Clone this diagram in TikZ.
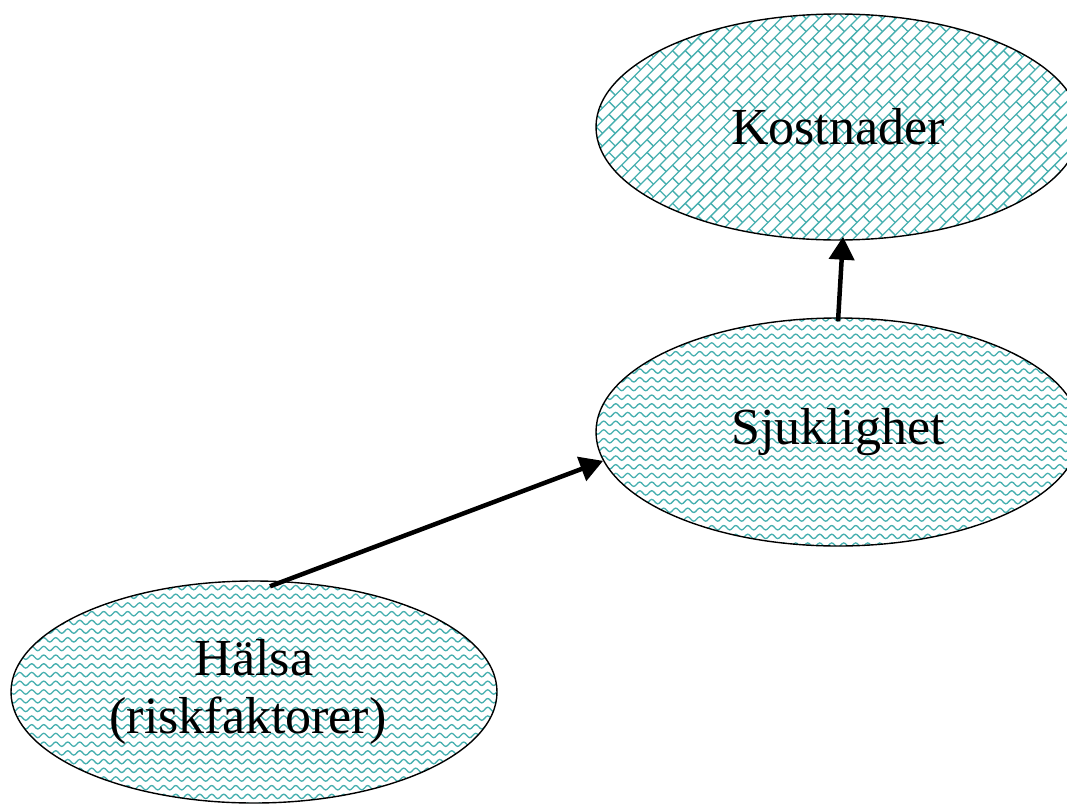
\documentclass[tikz,border=0pt]{standalone}
\usepackage{fontspec}
\setmainfont{Liberation Serif}
\usetikzlibrary{shapes.geometric,arrows.meta,decorations.pathmorphing,calc}
\definecolor{pat}{RGB}{70,175,175}
\tikzset{
  patline/.style={draw=pat,line width=1.3pt},
  bubble/.style={ellipse,draw=black,line width=1.4pt,fill=white,inner sep=0pt,
     font=\fontsize{52}{60}\selectfont,align=center},
  wavefill/.style={path picture={
     \foreach \k in {-14,...,14} {
       \draw[patline,decorate,decoration={snake,segment length=12pt,amplitude=2.2pt}]
         ([xshift=-262pt,yshift=\k*8.7pt]path picture bounding box.center) -- ++(524pt,0pt);
     }}},
  brickfill/.style={path picture={
     \foreach \k in {-24,...,24} {
       \pgfmathtruncatemacro\oo{mod(\k+100,2)*9}
       \draw[patline] ([xshift=\k*6.364pt-205pt,yshift=-\k*6.364pt-205pt]path picture bounding box.center)
          -- ++(410pt,410pt);
       \draw[patline] \foreach \j in {-17,...,17} {
          ([xshift=\k*6.364pt+\j*12.728pt+\oo*0.7071pt,yshift=\j*12.728pt+\oo*0.7071pt-\k*6.364pt]path picture bounding box.center)
          -- ++(6.364pt,-6.364pt)};
     }}},
  conn/.style={line width=4.5pt,-{Triangle[length=23pt,width=25pt]}},
}
\begin{document}
\begin{tikzpicture}[x=1pt,y=-1pt]
\useasboundingbox (0,0) rectangle (1067,806);
\node[bubble,brickfill,minimum width=484pt,minimum height=226pt] (kost) at (838,127) {Kostnader};
\node[bubble,wavefill,minimum width=484pt,minimum height=228pt] (sjuk) at (838,432) {Sjuklighet};
\node[bubble,wavefill,minimum width=486pt,minimum height=222pt] (halsa) at (254,692) {Hälsa\\[-2pt](riskfaktorer)\hspace*{12pt}};
\draw[conn] ($(halsa.north)+(16,6)$) -- (sjuk.187);
\draw[conn] ($(sjuk.north)+(0,4)$) -- ($(kost.south)+(5,-4)$);
\end{tikzpicture}
\end{document}
